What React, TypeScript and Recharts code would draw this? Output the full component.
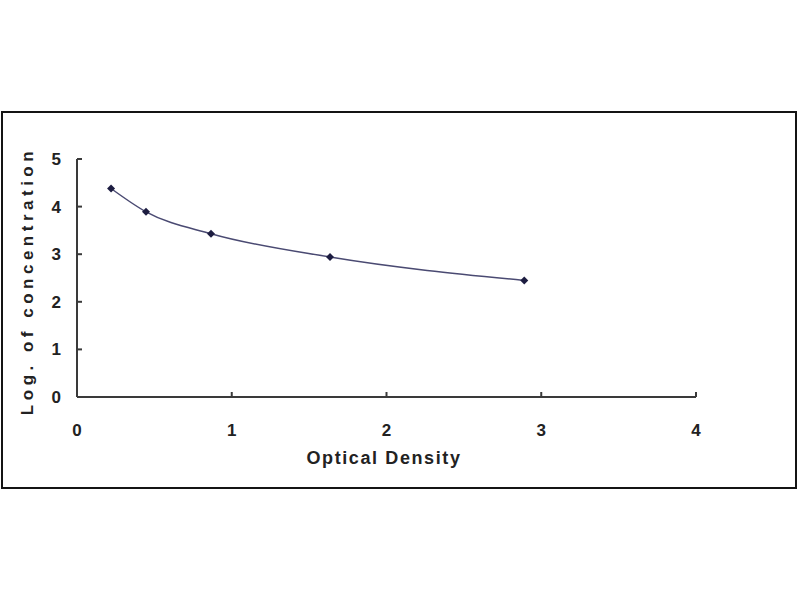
import React from 'react';
import { ComposedChart, Line, XAxis, YAxis } from 'recharts';

// standard curve: optical density vs log of concentration
const opticalDensity = [0.22, 0.446, 0.866, 1.635, 2.89];
const logConcentration = [4.38, 3.89, 3.43, 2.94, 2.45];
const xTicks = [0, 1, 2, 3, 4];
const yTicks = [0, 1, 2, 3, 4, 5];

const chartData = opticalDensity.map((od, i) => ({ od, logc: logConcentration[i] }));

const FONT = '"Liberation Sans", Arial, sans-serif';

const Diamond = (props: any) => {
  const { cx, cy, index } = props;
  if (cx == null || cy == null) return null;
  const r = 4;
  return (
    <path
      key={`d-${index}`}
      d={`M${cx},${cy - r}L${cx + r},${cy}L${cx},${cy + r}L${cx - r},${cy}Z`}
      fill="#1c1c40"
    />
  );
};

const App: React.FC = () => {
  return (
    <div style={{ position: 'fixed', left: 0, top: 0, width: 800, height: 600, background: '#fff' }}>
      <div
        style={{
          position: 'absolute',
          left: 1,
          top: 111,
          width: 796,
          height: 378,
          boxSizing: 'border-box',
          border: '2px solid #141414',
        }}
      />
      <div style={{ position: 'absolute', left: 0, top: 0 }}>
        <ComposedChart
          width={800}
          height={600}
          data={chartData}
          margin={{ top: 159, right: 104, left: 37, bottom: 173 }}
        >
          <XAxis
            dataKey="od"
            type="number"
            domain={[0, 4]}
            ticks={xTicks}
            height={30}
            stroke="#3a3a3a"
            strokeWidth={2}
            tickSize={-5}
            tickMargin={32}
            tick={{ fill: '#222', fontSize: 17, fontWeight: 'bold', fontFamily: FONT }}
            label={{
              content: ({ viewBox }: any) => (
                <text
                  x={viewBox.x + 307}
                  y={viewBox.y + 67}
                  textAnchor="middle"
                  fill="#222"
                  fontSize={18}
                  fontWeight="bold"
                  fontFamily={FONT}
                  letterSpacing={1.6}
                >
                  Optical Density
                </text>
              ),
            }}
          />
          <YAxis
            dataKey="logc"
            type="number"
            domain={[0, 5]}
            ticks={yTicks}
            width={40}
            stroke="#3a3a3a"
            strokeWidth={2}
            tickSize={-5}
            tickMargin={21}
            tick={{ fill: '#222', fontSize: 17, fontWeight: 'bold', fontFamily: FONT }}
            label={{
              content: ({ viewBox }: any) => {
                const cx = viewBox.x - 10;
                const cy = viewBox.y + viewBox.height / 2 + 3;
                return (
                  <text
                    x={cx}
                    y={cy}
                    transform={`rotate(-90 ${cx} ${cy})`}
                    textAnchor="middle"
                    dominantBaseline="central"
                    fill="#222"
                    fontSize={17}
                    fontWeight="bold"
                    fontFamily={FONT}
                    letterSpacing={4.5}
                  >
                    Log. of concentration
                  </text>
                );
              },
            }}
          />
          <Line
            dataKey="logc"
            type="monotone"
            stroke="#4a4a72"
            strokeWidth={1.5}
            dot={Diamond}
            activeDot={false}
            isAnimationActive={false}
          />
        </ComposedChart>
      </div>
    </div>
  );
};

export default App;
